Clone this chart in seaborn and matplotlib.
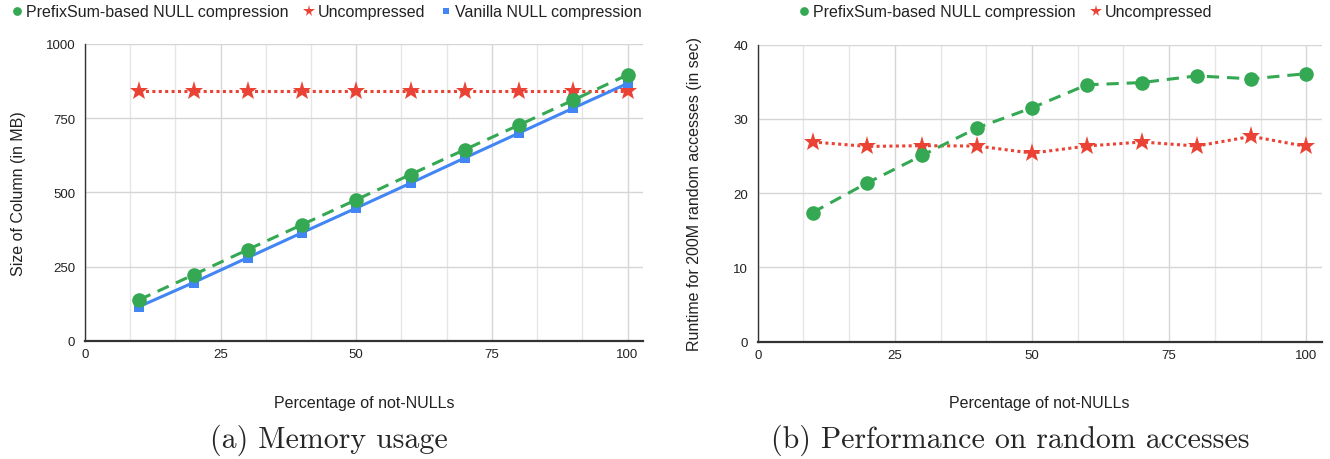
import numpy as np
import pandas as pd
import matplotlib
matplotlib.use("Agg")
import matplotlib.pyplot as plt
from matplotlib.lines import Line2D
import seaborn as sns

# ---------------------------------------------------------------- data
pct = [10, 20, 30, 40, 50, 60, 70, 80, 90, 100]

mem_prefixsum = [138, 222, 307, 391, 475, 560, 644, 727, 811, 896]
mem_uncompressed = [840, 840, 840, 840, 840, 840, 840, 840, 840, 840]
mem_vanilla = [115, 196, 280, 364, 447, 531, 616, 700, 784, 867]

rt_prefixsum = [17.4, 21.4, 25.1, 28.8, 31.5, 34.6, 34.9, 35.8, 35.4, 36.1]
rt_uncompressed = [26.9, 26.3, 26.4, 26.35, 25.4, 26.35, 26.9, 26.35, 27.65, 26.3]

LBL_PS = "PrefixSum-based NULL compression"
LBL_UN = "Uncompressed"
LBL_VA = "Vanilla NULL compression"

GREEN = "#34A853"
RED = "#EA4335"
BLUE = "#4285F4"

sns.set_theme(style="white")
plt.rcParams["font.family"] = ["Liberation Sans", "DejaVu Sans"]

STYLES = {
    LBL_PS: dict(color=GREEN, marker="o", markersize=10.5, linestyle=(0, (4, 2.6))),
    LBL_UN: dict(color=RED, marker="*", markersize=14, linestyle=(0, (1, 1.1))),
    LBL_VA: dict(color=BLUE, marker="s", markersize=7.5, linestyle="-"),
}


def draw_series(ax, x, y, label):
    st = STYLES[label]
    sns.lineplot(x=x, y=y, ax=ax, color=st["color"], marker=st["marker"],
                 markersize=st["markersize"], markeredgewidth=0,
                 linestyle=st["linestyle"], linewidth=2.2, legend=False)


def style_axes(ax, ymax, ystep, xlabel, ylabel):
    ax.set_xlim(0, 102.8)
    ax.set_ylim(0, ymax)
    ax.set_xticks([0, 25, 50, 75, 100])
    ax.set_xticks(np.arange(0, 101, 25 / 3), minor=True)
    ax.set_yticks(np.arange(0, ymax + 1, ystep))
    ax.grid(axis="y", which="major", color="#d6d6d6", lw=1.0)
    ax.grid(axis="x", which="major", color="#d6d6d6", lw=1.0)
    ax.grid(axis="x", which="minor", color="#e6e6e6", lw=1.0)
    ax.set_axisbelow(True)
    for s in ["top", "right"]:
        ax.spines[s].set_visible(False)
    ax.spines["left"].set_color("#333333")
    ax.spines["left"].set_linewidth(1.0)
    ax.spines["bottom"].set_color("#333333")
    ax.spines["bottom"].set_linewidth(1.6)
    ax.tick_params(axis="both", which="both", length=0, labelsize=9.5,
                   colors="#222222")
    ax.tick_params(axis="y", pad=7)
    ax.tick_params(axis="x", pad=5)
    ax.set_xlabel(xlabel, fontsize=11.5, color="#222222")
    ax.set_ylabel(ylabel, fontsize=11.5, color="#222222")


def legend_handles(labels):
    return [Line2D([], [], color=STYLES[l]["color"], marker=STYLES[l]["marker"],
                   markersize=STYLES[l]["markersize"] * 0.6, linestyle="none",
                   markeredgewidth=0, label=l) for l in labels]


fig = plt.figure(figsize=(13.3, 4.6), dpi=100)
ax1 = fig.add_axes([85 / 1330, 1 - 341.7 / 460, 557.7 / 1330, 296.7 / 460])
ax2 = fig.add_axes([757.7 / 1330, 1 - 342.7 / 460, 564 / 1330, 297 / 460])

# (a) memory usage
draw_series(ax1, pct, mem_uncompressed, LBL_UN)
draw_series(ax1, pct, mem_vanilla, LBL_VA)
draw_series(ax1, pct, mem_prefixsum, LBL_PS)
style_axes(ax1, 1000, 250, "Percentage of not-NULLs", "Size of Column (in MB)")
ax1.xaxis.set_label_coords(0.5, -0.183)
ax1.yaxis.set_label_coords(-0.106, 0.5)

# (b) random access performance
draw_series(ax2, pct, rt_uncompressed, LBL_UN)
draw_series(ax2, pct, rt_prefixsum, LBL_PS)
style_axes(ax2, 40, 10, "Percentage of not-NULLs",
           "Runtime for 200M random accesses (in sec)")
ax2.xaxis.set_label_coords(0.5, -0.18)
ax2.yaxis.set_label_coords(-0.099, 0.5)

fig.legend(handles=legend_handles([LBL_PS, LBL_UN, LBL_VA]), ncol=3,
           loc="center", bbox_to_anchor=(326 / 1330, 1 - 13 / 460),
           frameon=False, fontsize=11.5, handletextpad=0.15, columnspacing=0.9,
           handlelength=0.8, labelcolor="#222222")
fig.legend(handles=legend_handles([LBL_PS, LBL_UN]), ncol=2,
           loc="center", bbox_to_anchor=(1005 / 1330, 1 - 13 / 460),
           frameon=False, fontsize=11.5, handletextpad=0.15, columnspacing=0.9,
           handlelength=0.8, labelcolor="#222222")

# sub-figure captions
fig.text(329 / 1330, 1 - 440 / 460, "(a) Memory usage", ha="center",
         va="center", fontsize=21.5, family="cmr10")
fig.text(1010 / 1330, 1 - 440 / 460, "(b) Performance on random accesses",
         ha="center", va="center", fontsize=21.5, family="cmr10")

fig.savefig("out.png", dpi=100)
